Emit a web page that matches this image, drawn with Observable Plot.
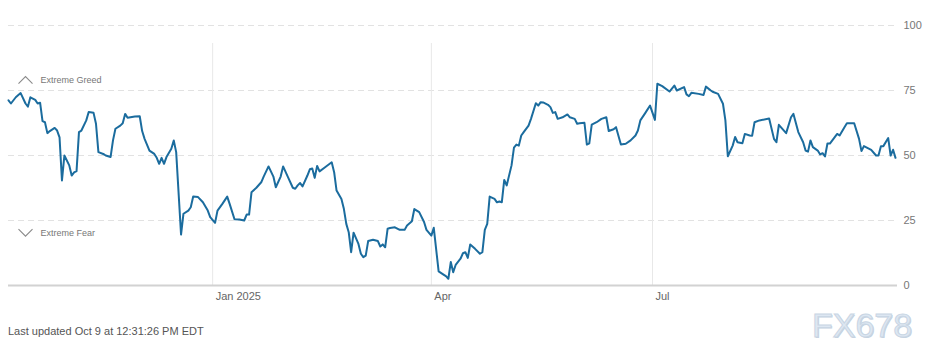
<!DOCTYPE html>
<html>
<head>
<meta charset="utf-8">
<script src="https://cdn.jsdelivr.net/npm/d3@7"></script>
<script src="https://cdn.jsdelivr.net/npm/@observablehq/plot@0.6"></script>
<style>
  html, body { margin: 0; padding: 0; background: #fff; }
  #wrap { position: relative; width: 940px; height: 360px; font-family: "Liberation Sans", Arial, sans-serif; }
  #footer { position: absolute; left: 8px; top: 325px; font-size: 11px; color: #555; }
  #mark { position: absolute; left: 812px; top: 306px; font-size: 34px; font-family: "Liberation Sans", Arial, sans-serif;
          color: #dde7f2; -webkit-text-stroke: 1px #c9d6e4; letter-spacing: 0px; text-shadow: 1px 1px 0 #c4d1df; }
</style>
</head>
<body>
<div id="wrap">
  <div id="chart"></div>
  <div id="footer">Last updated Oct 9 at 12:31:26 PM EDT</div>
  <div id="mark">FX678</div>
</div>
<script>
const dates = [
  "2024-10-09","2024-10-10","2024-10-12","2024-10-14","2024-10-16","2024-10-17","2024-10-18","2024-10-20","2024-10-21","2024-10-22",
  "2024-10-23","2024-10-24","2024-10-25","2024-10-26","2024-10-28","2024-10-29","2024-10-30","2024-10-31","2024-11-01","2024-11-03",
  "2024-11-04","2024-11-05","2024-11-06","2024-11-07","2024-11-08","2024-11-10","2024-11-11","2024-11-13","2024-11-14","2024-11-15",
  "2024-11-17","2024-11-18","2024-11-20","2024-11-21","2024-11-22","2024-11-24","2024-11-25","2024-11-26","2024-11-27","2024-11-30",
  "2024-12-02","2024-12-03","2024-12-04","2024-12-06","2024-12-08","2024-12-09","2024-12-10","2024-12-11","2024-12-12","2024-12-13",
  "2024-12-15","2024-12-16","2024-12-17","2024-12-19","2024-12-20","2024-12-22","2024-12-23","2024-12-24","2024-12-26","2024-12-28",
  "2024-12-30","2024-12-31","2025-01-02","2025-01-03","2025-01-05","2025-01-07","2025-01-08","2025-01-10","2025-01-12","2025-01-14",
  "2025-01-15","2025-01-16","2025-01-17","2025-01-19","2025-01-21","2025-01-22","2025-01-24","2025-01-26","2025-01-27","2025-01-29",
  "2025-01-30","2025-02-01","2025-02-03","2025-02-04","2025-02-05","2025-02-06","2025-02-07","2025-02-09","2025-02-10","2025-02-11",
  "2025-02-12","2025-02-13","2025-02-14","2025-02-16","2025-02-19","2025-02-20","2025-02-21","2025-02-23","2025-02-24","2025-02-25",
  "2025-02-26","2025-02-27","2025-02-28","2025-03-02","2025-03-03","2025-03-04","2025-03-05","2025-03-06","2025-03-08","2025-03-10",
  "2025-03-11","2025-03-12","2025-03-13","2025-03-14","2025-03-15","2025-03-17","2025-03-19","2025-03-21","2025-03-22","2025-03-24",
  "2025-03-25","2025-03-27","2025-03-29","2025-03-30","2025-04-01","2025-04-02","2025-04-04","2025-04-06","2025-04-07","2025-04-08",
  "2025-04-09","2025-04-10","2025-04-11","2025-04-13","2025-04-14","2025-04-15","2025-04-16","2025-04-17","2025-04-19","2025-04-21",
  "2025-04-22","2025-04-23","2025-04-24","2025-04-25","2025-04-27","2025-04-28","2025-04-29","2025-04-30","2025-05-01","2025-05-02",
  "2025-05-04","2025-05-05","2025-05-06","2025-05-07","2025-05-08","2025-05-09","2025-05-11","2025-05-12","2025-05-14","2025-05-15",
  "2025-05-16","2025-05-17","2025-05-19","2025-05-20","2025-05-21","2025-05-22","2025-05-23","2025-05-25","2025-05-27","2025-05-28",
  "2025-05-30","2025-05-31","2025-06-01","2025-06-03","2025-06-04","2025-06-05","2025-06-06","2025-06-08","2025-06-10","2025-06-12",
  "2025-06-13","2025-06-15","2025-06-16","2025-06-18","2025-06-20","2025-06-22","2025-06-24","2025-06-25","2025-06-26","2025-06-28",
  "2025-06-30","2025-07-02","2025-07-03","2025-07-05","2025-07-08","2025-07-10","2025-07-11","2025-07-14","2025-07-15","2025-07-16",
  "2025-07-17","2025-07-20","2025-07-22","2025-07-23","2025-07-25","2025-07-26","2025-07-28","2025-07-30","2025-07-31","2025-08-01",
  "2025-08-03","2025-08-04","2025-08-05","2025-08-07","2025-08-08","2025-08-10","2025-08-11","2025-08-12","2025-08-14","2025-08-18",
  "2025-08-20","2025-08-21","2025-08-22","2025-08-25","2025-08-27","2025-08-28","2025-08-30","2025-09-01","2025-09-02","2025-09-03",
  "2025-09-04","2025-09-05","2025-09-07","2025-09-08","2025-09-09","2025-09-10","2025-09-11","2025-09-12","2025-09-14","2025-09-15",
  "2025-09-16","2025-09-18","2025-09-19","2025-09-22","2025-09-24","2025-09-25","2025-09-26","2025-09-29","2025-10-01","2025-10-02",
  "2025-10-03","2025-10-04","2025-10-06","2025-10-07","2025-10-08","2025-10-09"
];
const values = [
  71.2,70.0,72.4,74.0,70.0,68.8,72.4,71.4,70.0,70.3,
  63.2,62.8,58.6,59.4,60.6,59.6,57.0,40.4,50.0,46.2,
  42.3,43.5,44.0,59.0,59.6,63.5,66.7,66.4,62.2,51.3,
  50.6,50.0,49.4,55.8,60.3,61.5,62.4,66.0,64.5,65.0,
  65.1,59.4,56.4,51.9,50.6,49.1,46.8,49.1,46.8,49.4,
  52.6,55.8,51.3,19.6,27.6,28.8,30.1,34.2,34.0,32.0,
  28.8,26.3,24.1,28.8,31.4,34.2,31.4,25.5,25.4,25.0,
  27.3,27.3,35.9,37.6,39.7,41.9,45.8,41.9,37.8,41.9,
  45.8,41.7,37.6,37.2,38.5,39.4,38.1,42.3,44.7,45.0,
  41.4,46.0,43.9,45.3,47.4,43.6,36.5,33.3,29.5,23.7,
  20.5,12.8,20.3,16.0,12.2,10.9,11.5,17.1,17.6,17.1,
  15.0,15.8,14.7,21.8,22.1,22.4,21.4,21.4,23.1,24.7,
  29.4,28.2,24.4,21.4,19.2,22.2,5.4,4.2,3.6,2.6,
  9.0,5.1,7.9,10.3,12.4,12.8,10.6,15.8,14.1,12.2,
  12.8,21.4,23.7,34.2,33.3,32.0,32.3,32.0,40.6,38.5,
  46.2,53.0,54.2,53.8,57.7,59.0,61.5,64.1,70.1,69.2,
  70.5,70.4,69.5,68.6,66.4,66.7,64.1,64.7,65.8,64.7,
  64.1,62.2,62.4,62.6,54.2,54.7,61.9,62.8,64.1,64.7,
  59.4,60.1,60.9,54.2,54.5,55.8,57.7,59.6,63.5,66.3,
  69.2,63.7,77.6,76.7,74.6,76.9,75.0,76.3,73.5,72.8,
  74.1,73.7,73.3,76.5,75.0,74.4,73.7,69.9,63.5,49.7,
  53.8,57.1,55.1,54.7,58.3,57.7,57.6,62.8,63.5,64.2,
  56.4,55.1,61.8,58.6,64.7,66.0,59.0,55.1,51.9,51.5,
  55.8,53.2,51.9,50.4,50.9,49.6,54.6,54.6,57.1,58.3,
  57.7,60.9,62.4,62.4,56.4,51.7,53.6,52.2,50.0,50.0,
  53.6,53.6,56.7,50.0,52.2,49.1
];
const xTickDates = ["2025-01-01","2025-04-01","2025-07-01"];
const xTickLabels = ["Jan 2025","Apr","Jul"];
const yTicks = [0,25,50,75,100];
const gridValues = [25,50,75,100];
const zoneLabels = ["Extreme Greed","Extreme Fear"];
const zoneValues = [79,20.3];

const data = dates.map((d, i) => ({date: new Date(d), value: values[i]}));
const xTicks = xTickDates.map((d, i) => ({date: new Date(d), label: xTickLabels[i]}));
const zones = zoneLabels.map((l, i) => ({label: l, value: zoneValues[i]}));

const chevUp = {draw(ctx) { ctx.moveTo(-7, 3.5); ctx.lineTo(0, -3.5); ctx.lineTo(7, 3.5); }};
const chevDown = {draw(ctx) { ctx.moveTo(-7, -3.5); ctx.lineTo(0, 3.5); ctx.lineTo(7, -3.5); }};

const chart = Plot.plot({
  width: 940,
  height: 310,
  marginTop: 25,
  marginBottom: 25,
  marginLeft: 8,
  marginRight: 45,
  style: {fontFamily: "'Liberation Sans', Arial, sans-serif", background: "#fff"},
  x: {type: "utc", domain: [new Date("2024-10-09"), new Date("2025-10-09")], axis: null},
  y: {domain: [0, 100], axis: null},
  marks: [
    Plot.ruleY(gridValues, {stroke: "#e2e2e2", strokeDasharray: "6,4", strokeWidth: 1}),
    Plot.ruleX(xTicks, {x: "date", y1: 0, y2: 100, stroke: "#e8e8e8", strokeWidth: 1, insetBottom: -18}),
    Plot.ruleY([0], {stroke: "#d2d2d2", strokeWidth: 2, insetRight: -2}),
    Plot.line(data, {x: "date", y: "value", stroke: "#1b6c9e", strokeWidth: 2, strokeLinejoin: "round"}),
    Plot.text(xTicks, {x: "date", text: "label", frameAnchor: "bottom", dy: 14, dx: 3, textAnchor: "start", fill: "#666", fontSize: 11}),
    Plot.axisY({anchor: "right", ticks: yTicks, tickSize: 0, tickPadding: 8, fill: "#777", fontSize: 11, label: null}),
    Plot.text(zones, {y: "value", text: "label", frameAnchor: "left", dx: 32, textAnchor: "start", fill: "#777", fontSize: 9}),
    Plot.dot([zones[0]], {y: "value", frameAnchor: "left", dx: 17, symbol: chevUp, stroke: "#8a8a8a", fill: "none", strokeWidth: 1.1}),
    Plot.dot([zones[1]], {y: "value", frameAnchor: "left", dx: 17, symbol: chevDown, stroke: "#8a8a8a", fill: "none", strokeWidth: 1.1})
  ]
});
document.getElementById("chart").appendChild(chart);
</script>
</body>
</html>
